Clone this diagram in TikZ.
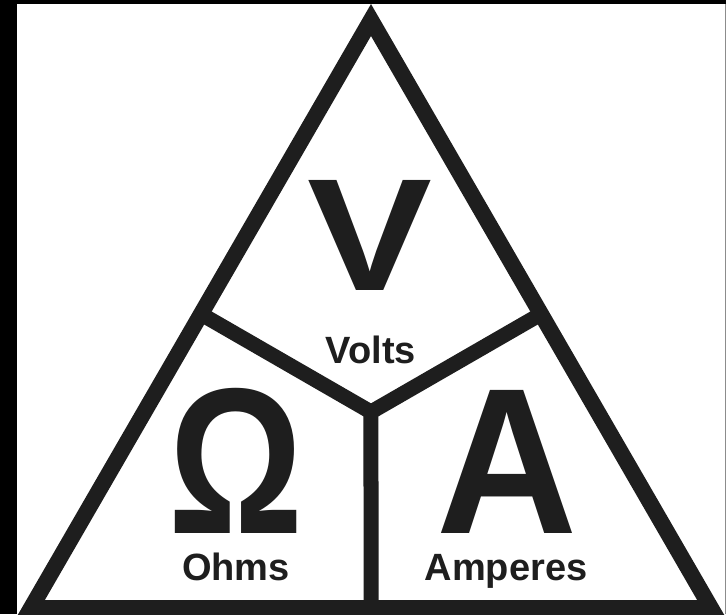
\documentclass[tikz,border=0pt]{standalone}
\usepackage{fontspec}
\setmainfont{Liberation Sans}
\usetikzlibrary{calc}
\definecolor{ink}{HTML}{1E1E1E}
\newcommand{\bigsym}[2]{\raisebox{0pt}[\height][0pt]{\scalebox{#1}[1]{#2}}}
\tikzstyle{edge}=[ink, line width=16pt, line join=miter, miter limit=10]
\tikzstyle{spoke}=[ink, line width=15pt]
\tikzstyle{sym}=[ink, inner sep=0pt, anchor=base, font=\fontsize{208}{208}\selectfont\bfseries]
\tikzstyle{unit}=[ink, inner sep=0pt, anchor=base, font=\fontsize{38}{38}\selectfont\bfseries]

\begin{document}
\begin{tikzpicture}[x=1pt, y=-1pt]
	\useasboundingbox (0,0) rectangle (726,614);
	\fill[black] (0,0) rectangle (726,614);
	\fill[white] (17,4) rectangle (726,614);
	\draw[black!45, line width=1pt] (725,4) -- (725,614);
	\clip (0,0) rectangle (726,614);
	% corners of the triangle and the centre point
	\coordinate (top) at (371,20);
	\coordinate (left) at (31,608);
	\coordinate (right) at (711,608);
	\coordinate (mid) at (barycentric cs:top=1,left=1,right=1);
	\coordinate (sideL) at ($(top)!.5!(left)$);
	\coordinate (sideR) at ($(top)!.5!(right)$);
	\coordinate (base) at ($(left)!.5!(right)$);
	\draw[spoke] (sideL) -- (mid) -- (sideR);
	\draw[spoke] (mid) -- (base);
	\draw[edge] (top) -- (left) -- (right) -- cycle;
	\node[sym, font=\fontsize{160}{160}\selectfont\bfseries] (volt) at (370,290) {\bigsym{1.17}{V}};
	\node[sym] (ohm) at (236,533) {\bigsym{0.81}{Ω}};
	\node[sym] (amp) at (507,533) {\bigsym{0.94}{A}};
	\node[unit] (voltlabel) at (371,363) {Volts};
	\node[unit] (ohmlabel) at (236,580) {Ohms};
	\node[unit] (amplabel) at (506,580) {Amperes};
\end{tikzpicture}
\end{document}
